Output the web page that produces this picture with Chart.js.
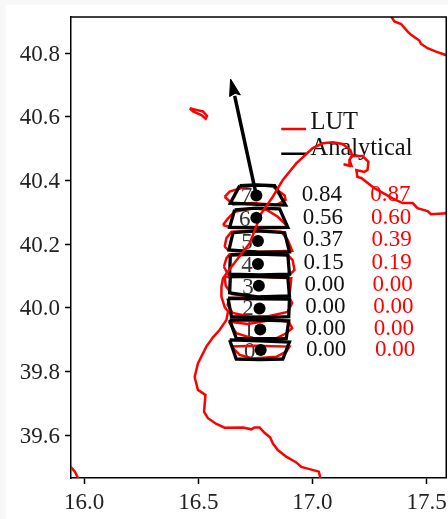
<!doctype html>
<html>
	<head>
		<meta charset="utf-8">
		<title>LUT vs Analytical</title>
		<script src="https://cdn.jsdelivr.net/npm/chart.js@4"></script>
		<style>
			html, body { margin: 0; padding: 0; background: #f8f8f8; }
			#wrap { position: absolute; left: 6px; top: 5px; width: 442px; height: 514px; background: #fff; }
		</style>
	</head>
	<body>
	<div id="wrap"><canvas id="myChart" width="442" height="514"></canvas></div>
	<script>
		const xTicks = [16.0, 16.5, 17.0, 17.5]
		const yTicks = [39.6, 39.8, 40.0, 40.2, 40.4, 40.6, 40.8]

		// coastline pieces, lon / lat
		const coastLon = [17.035,17.028,16.987,16.951,16.929,16.885,16.848,16.826,16.815,16.790,16.768,16.746,16.732,16.695,16.615,16.579,16.542,16.525,16.531,16.498,16.487,16.484,16.498,16.535,16.564,16.593,16.623,16.630,16.615,16.601,16.601,16.608,16.623,16.645,16.725,16.776,16.826,16.870,16.929,17.001,17.045,17.089,17.132,17.166,17.175,17.162,17.171,17.136,17.162,17.162,17.171,17.219,17.245,17.241,17.227,17.192,17.197,17.214,17.271,17.351,17.395,17.439,17.460,17.504,17.519,17.590]
		const coastLat = [39.463,39.485,39.493,39.500,39.514,39.532,39.553,39.574,39.592,39.607,39.624,39.624,39.618,39.624,39.623,39.635,39.653,39.673,39.726,39.742,39.773,39.783,39.825,39.878,39.907,39.930,39.962,39.988,40.003,40.035,40.066,40.093,40.108,40.129,40.203,40.297,40.349,40.402,40.454,40.502,40.517,40.520,40.515,40.496,40.477,40.465,40.446,40.451,40.446,40.465,40.477,40.477,40.459,40.433,40.427,40.433,40.411,40.408,40.376,40.344,40.329,40.329,40.313,40.304,40.294,40.297]
		const islandLon = [16.462,16.477,16.513,16.532,16.538,16.520,16.491,16.462]
		const islandLat = [40.627,40.617,40.606,40.594,40.603,40.617,40.622,40.627]
		const topCoastLon = [17.344,17.359,17.388,17.417,17.432,17.468,17.475,17.504,17.541,17.590]
		const topCoastLat = [40.916,40.900,40.892,40.868,40.858,40.840,40.830,40.816,40.805,40.793]
		const cornerCoastLon = [15.935,15.959,15.974]
		const cornerCoastLat = [39.505,39.485,39.463]

		// beam outlines, index 0 at the bottom
		const analyticalLon = [
			[16.637,16.768,16.899,16.870,16.768,16.666,16.637],
			[16.637,16.768,16.896,16.885,16.768,16.666,16.637],
			[16.630,16.768,16.899,16.896,16.768,16.645,16.630],
			[16.640,16.764,16.892,16.899,16.760,16.637,16.640],
			[16.640,16.764,16.892,16.899,16.768,16.637,16.640],
			[16.652,16.760,16.878,16.899,16.764,16.634,16.652],
			[16.659,16.754,16.856,16.892,16.760,16.637,16.659],
			[16.681,16.754,16.834,16.882,16.761,16.640,16.681]
		]
		const analyticalLat = [
			[39.899,39.896,39.892,39.839,39.837,39.839,39.899],
			[39.962,39.961,39.959,39.904,39.902,39.904,39.962],
			[40.030,40.028,40.027,39.972,39.968,39.972,40.030],
			[40.098,40.098,40.096,40.037,40.034,40.047,40.098],
			[40.166,40.169,40.166,40.106,40.103,40.106,40.166],
			[40.236,40.242,40.236,40.176,40.175,40.182,40.236],
			[40.308,40.313,40.311,40.253,40.251,40.253,40.308],
			[40.384,40.386,40.384,40.323,40.325,40.329,40.384]
		]
		const lutLon = [
			[16.645,16.746,16.899,16.885,16.841,16.739,16.681,16.645],
			[16.634,16.717,16.826,16.896,16.911,16.885,16.841,16.739,16.666,16.634],
			[16.637,16.768,16.899,16.911,16.891,16.812,16.725,16.650,16.628,16.637],
			[16.615,16.751,16.907,16.902,16.895,16.760,16.646,16.620,16.615],
			[16.612,16.623,16.637,16.764,16.885,16.913,16.921,16.899,16.768,16.630,16.612],
			[16.615,16.623,16.645,16.754,16.863,16.892,16.911,16.768,16.630,16.615],
			[16.608,16.630,16.659,16.739,16.798,16.848,16.885,16.882,16.746,16.637,16.608],
			[16.615,16.637,16.695,16.754,16.826,16.878,16.882,16.841,16.739,16.652,16.615]
		]
		const lutLat = [
			[39.878,39.881,39.878,39.862,39.846,39.841,39.852,39.878],
			[39.956,39.949,39.962,39.956,39.936,39.920,39.904,39.904,39.920,39.956],
			[40.031,40.032,40.031,40.015,39.987,39.974,39.973,39.984,40.009,40.031],
			[40.097,40.098,40.093,40.056,40.037,40.034,40.043,40.069,40.097],
			[40.129,40.156,40.168,40.172,40.171,40.150,40.119,40.103,40.100,40.105,40.129],
			[40.192,40.219,40.239,40.242,40.239,40.213,40.179,40.175,40.182,40.192],
			[40.260,40.281,40.302,40.313,40.308,40.286,40.260,40.255,40.254,40.254,40.260],
			[40.349,40.365,40.378,40.386,40.381,40.353,40.339,40.323,40.329,40.325,40.349]
		]

		const dotLon = [16.773,16.771,16.768,16.765,16.761,16.761,16.754,16.754]
		const dotLat = [39.867,39.932,39.998,40.069,40.138,40.210,40.283,40.353]

		const arrowLon = [16.754,16.659]
		const arrowLat = [40.353,40.666]
		const arrowHeadLon = [16.641,16.637,16.661,16.684,16.641]
		const arrowHeadLat = [40.719,40.664,40.674,40.669,40.719]

		const legendLon = [16.863,16.972]
		const legendLutLat = [40.562,40.562]
		const legendAnalyticalLat = [40.484,40.484]
		const legendTextLon = 16.991
		const legendTextLat = [40.587,40.506]
		const legendNames = ['LUT','Analytical']

		const indexNames = ['0','1','2','3','4','5','6','7']
		const indexLon = [16.725,16.721,16.717,16.717,16.713,16.713,16.703,16.711]
		const indexLat = [39.867,39.933,40.003,40.069,40.138,40.211,40.283,40.355]

		const analyticalValues = [0.00,0.00,0.00,0.00,0.15,0.37,0.56,0.84]
		const lutValues = [0.00,0.00,0.00,0.00,0.19,0.39,0.60,0.87]
		const valueLat = [39.873,39.941,40.009,40.077,40.148,40.219,40.289,40.360]
		const analyticalValueLon = [17.060,17.057,17.056,17.053,17.049,17.045,17.045,17.041]
		const lutValueLon = [17.362,17.357,17.354,17.351,17.347,17.347,17.344,17.341]

		const serif = '"Liberation Serif", serif'
		const toPoints = (xs, ys) => xs.map((x, i) => ({x: x, y: ys[i]}))
		const line = (xs, ys, color, width) => ({
			data: toPoints(xs, ys),
			showLine: true,
			borderColor: color,
			borderWidth: width,
			pointRadius: 0,
			fill: false,
			tension: 0,
			borderJoinStyle: 'miter'
		})

		// first dataset ends up on top
		const datasets = [
			{data: toPoints(dotLon, dotLat), backgroundColor: '#000', borderWidth: 0, pointRadius: 6},
			line(coastLon, coastLat, '#f00', 2.5),
			line(islandLon, islandLat, '#f00', 2.5),
			line(topCoastLon, topCoastLat, '#f00', 2.5),
			line(cornerCoastLon, cornerCoastLat, '#f00', 2.5)
		]
		analyticalLon.forEach((xs, i) => datasets.push(line(xs, analyticalLat[i], '#000', 3.3)))
		lutLon.forEach((xs, i) => datasets.push(line(xs, lutLat[i], '#f00', 2.5)))
		datasets.push(line(arrowLon, arrowLat, '#000', 3.5))
		datasets.push(Object.assign(line(arrowHeadLon, arrowHeadLat, '#000', 1), {fill: 'shape', backgroundColor: '#000'}))
		datasets.push(line(legendLon, legendLutLat, '#f00', 2.5))
		datasets.push(line(legendLon, legendAnalyticalLat, '#000', 2.5))

		const labelsPlugin = {
			id: 'labels',
			beforeDatasetsDraw(chart) {
				const c = chart.ctx
				const sx = chart.scales.x
				const sy = chart.scales.y
				const put = (text, x, y, color, align) => {
					c.fillStyle = color
					c.textAlign = align
					c.fillText(text, sx.getPixelForValue(x), sy.getPixelForValue(y) + 2)
				}
				c.save()
				c.textBaseline = 'middle'
				c.font = '23px ' + serif
				indexNames.forEach((t, i) => put(t, indexLon[i], indexLat[i], '#333', 'center'))
				analyticalValues.forEach((v, i) => put(v.toFixed(2), analyticalValueLon[i], valueLat[i], '#111', 'center'))
				lutValues.forEach((v, i) => put(v.toFixed(2), lutValueLon[i], valueLat[i], '#f00', 'center'))
				c.font = '24.5px ' + serif
				legendNames.forEach((t, i) => put(t, legendTextLon, legendTextLat[i], '#111', 'left'))
				c.restore()
			},
			// top and right spines
			afterDraw(chart) {
				const a = chart.chartArea
				const c = chart.ctx
				c.save()
				c.strokeStyle = '#000'
				c.lineWidth = 1.5
				c.beginPath()
				c.moveTo(a.left, a.top)
				c.lineTo(a.right, a.top)
				c.lineTo(a.right, a.bottom)
				c.stroke()
				c.restore()
			}
		}

		// the tick labels must not push the plot area in
		const noPadding = (scale) => {
			scale.paddingTop = 0
			scale.paddingBottom = 0
			scale.paddingLeft = 0
			scale.paddingRight = 0
		}

		const axis = (min, max, ticks, position) => ({
			type: 'linear',
			position: position,
			min: min,
			max: max,
			afterBuildTicks: (scale) => { scale.ticks = ticks.map(v => ({value: v})) },
			grid: {drawOnChartArea: false, drawTicks: true, tickLength: 6, tickColor: '#000', tickWidth: 1.5},
			border: {display: true, color: '#000', width: 1.5},
			ticks: {
				autoSkip: false,
				maxRotation: 0,
				padding: 5,
				color: '#222',
				font: {family: serif, size: 23},
				callback: (value) => Number(value).toFixed(1)
			}
		})

		const xAxis = axis(15.942, 17.586, xTicks, 'bottom')
		xAxis.afterFit = (scale) => { scale.height = 41; noPadding(scale) }
		const yAxis = axis(39.465, 40.914, yTicks, 'left')
		yAxis.ticks.labelOffset = 1.5
		yAxis.afterFit = (scale) => { scale.width = 65; noPadding(scale) }

		const ctx = document.getElementById('myChart').getContext('2d')
		const myChart = new Chart(ctx, {
			type: 'scatter',
			data: {datasets: datasets},
			plugins: [labelsPlugin],
			options: {
				responsive: false,
				animation: false,
				layout: {padding: {top: 12, right: 1, left: 0, bottom: 0}},
				scales: {x: xAxis, y: yAxis},
				plugins: {legend: {display: false}, tooltip: {enabled: false}}
			}
		})
		// the dot radius would otherwise add 6px on the right of the plot area
		myChart.getDatasetMeta(0).controller.getMaxOverflow = () => 0
		myChart.update()
	</script>
	</body>
</html>
